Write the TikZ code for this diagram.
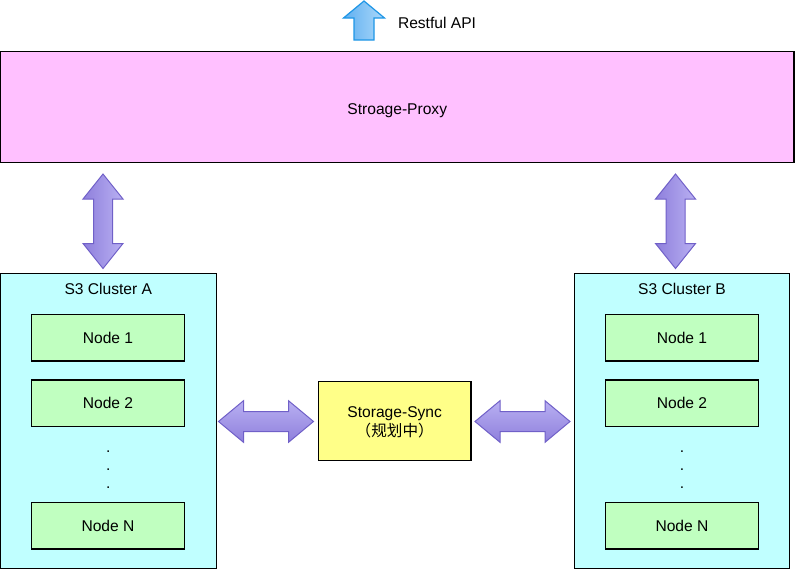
\documentclass[tikz,border=0pt]{standalone}
\usepackage{fontspec}
\setmainfont{Liberation Sans}
\newfontfamily\cjk{Noto Sans CJK SC}
\usetikzlibrary{calc}
\definecolor{proxyfill}{RGB}{255,192,255}
\definecolor{clusterfill}{RGB}{192,255,255}
\definecolor{nodefill}{RGB}{192,255,192}
\definecolor{syncfill}{RGB}{255,255,136}
\definecolor{purpdark}{RGB}{142,127,220}
\definecolor{purplight}{RGB}{185,176,242}
\definecolor{purpline}{RGB}{112,96,200}
\definecolor{bluedark}{RGB}{96,176,240}
\definecolor{bluelight}{RGB}{172,216,250}
\definecolor{blueline}{RGB}{30,150,230}
\newcommand\myVArrow[2]{\draw[vdbl] (#1) -- ($(#1)+(20,25)$) -- ($(#1)+(9.5,25)$) -- ($(#2)+(9.5,-25)$) -- ($(#2)+(20,-25)$) -- (#2) -- ($(#2)+(-20,-25)$) -- ($(#2)+(-9.5,-25)$) -- ($(#1)+(-9.5,25)$) -- ($(#1)+(-20,25)$) -- cycle;}
\newcommand\myHArrow[2]{\draw[hdbl] (#1) -- ($(#1)+(25,-20.8)$) -- ($(#1)+(25,-10)$) -- ($(#2)+(-25,-10)$) -- ($(#2)+(-25,-20.8)$) -- (#2) -- ($(#2)+(-25,20.8)$) -- ($(#2)+(-25,10)$) -- ($(#1)+(25,10)$) -- ($(#1)+(25,20.8)$) -- cycle;}
\begin{document}
\begin{tikzpicture}[x=1pt,y=-1pt,
  font=\fontsize{15.6}{19.4}\selectfont,
  box/.style={draw=black, line width=1.3pt, rectangle, inner sep=0pt, align=center},
  nodebox/.style={box, fill=nodefill, minimum width=152.8pt, minimum height=46.7pt},
  clusterbox/.style={box, fill=clusterfill, minimum height=295.5pt},
  vdbl/.style={draw=purpline, line width=1pt, left color=purpdark, right color=purplight},
  hdbl/.style={draw=purpline, line width=1pt, top color=purplight, bottom color=purpdark},
  updarrow/.style={draw=blueline, line width=1.2pt, left color=bluedark, right color=bluelight},
  txt/.style={anchor=base, inner sep=0pt}]
\useasboundingbox (0,0) rectangle (795,570);
% top API arrow
\coordinate (apiTip) at (364,1);
\coordinate (apiTail) at (364,40);
\draw[updarrow] (apiTip) -- ($(apiTip)+(20.5,17)$) -- ($(apiTip)+(10,17)$) -- ($(apiTail)+(10,0)$) -- ($(apiTail)+(-10,0)$) -- ($(apiTip)+(-10,17)$) -- ($(apiTip)+(-20.5,17)$) -- cycle;
\node[txt, anchor=base west] (api) at (397.8,28.5) {Restful API};
% proxy
\node[box, fill=proxyfill, minimum width=793.5pt, minimum height=111pt] (proxy) at (397.25,107) {};
\node[txt] (proxyText) at (397.25,114) {Stroage-Proxy};
% clusters
\node[clusterbox, minimum width=216.2pt] (clA) at (108.6,420.9) {};
\node[txt] (clAlabel) at (108.3,294.2) {S3 Cluster A};
\node[clusterbox, minimum width=215.5pt] (clB) at (682,420.9) {};
\node[txt] (clBlabel) at (682,294.2) {S3 Cluster B};
% nodes A
\node[nodebox] (a1) at (108,337.7) {Node 1};
\node[nodebox] (a2) at (108,403.4) {Node 2};
\node[nodebox] (aN) at (108,525.7) {Node N};
\node[txt] (ad1) at (108.3,452.6) {.};
\node[txt] (ad2) at (108.3,470.6) {.};
\node[txt] (ad3) at (108.3,488.6) {.};
% nodes B
\node[nodebox] (b1) at (682,337.7) {Node 1};
\node[nodebox] (b2) at (682,403.4) {Node 2};
\node[nodebox] (bN) at (682,525.7) {Node N};
\node[txt] (bd1) at (682,452.6) {.};
\node[txt] (bd2) at (682,470.6) {.};
\node[txt] (bd3) at (682,488.6) {.};
% sync
\node[box, fill=syncfill, minimum width=152.7pt, minimum height=79pt] (sync) at (394.7,421.2) {};
\node[txt] (syncL1) at (394.7,417.7) {Storage-Sync};
\node[txt] (syncL2) at (394.7,436.3) {\cjk （规划中）};
% double arrows
\coordinate (vAt) at (103,174);
\coordinate (vAb) at (103,268.5);
\coordinate (vBt) at (675.5,174);
\coordinate (vBb) at (675.5,268.5);
\myVArrow{vAt}{vAb}
\myVArrow{vBt}{vBb}
\coordinate (hLl) at (218.5,421.5);
\coordinate (hLr) at (313.5,421.5);
\coordinate (hRl) at (475,421.5);
\coordinate (hRr) at (570,421.5);
\myHArrow{hLl}{hLr}
\myHArrow{hRl}{hRr}
\end{tikzpicture}
\end{document}
